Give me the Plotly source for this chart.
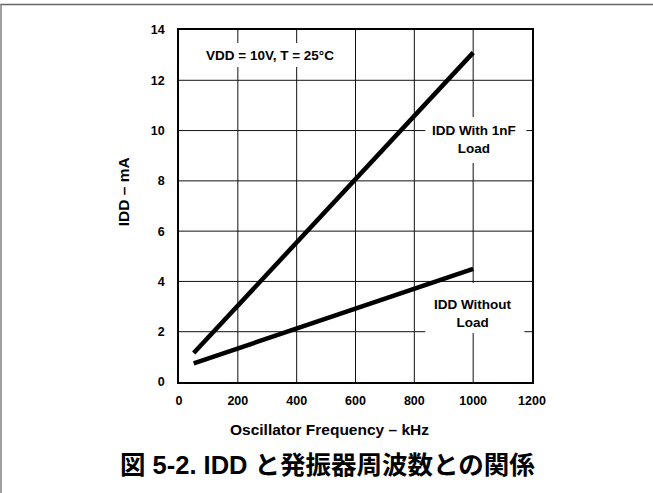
import plotly.graph_objects as go

# Supply current vs. oscillator frequency (VDD = 10V, T = 25°C)
freq_khz = [50, 1000]
idd_with_1nf_load = [1.15, 13.1]
idd_without_load = [0.74, 4.5]

x_ticks = [0, 200, 400, 600, 800, 1000, 1200]
y_ticks = [0, 2, 4, 6, 8, 10, 12, 14]

W, H = 653, 493
L, R, T, B = 178.7, 531.7, 30.0, 382.0


def px(x):
    return (x - L) / (R - L)


def py(y):
    return (B - y) / (B - T)


FONT = "Liberation Sans, Arial, Noto Sans CJK JP, sans-serif"

fig = go.Figure()
for ys in (idd_with_1nf_load, idd_without_load):
    fig.add_trace(go.Scatter(
        x=freq_khz, y=ys, mode="lines",
        line=dict(color="black", width=4.5),
        showlegend=False, hoverinfo="skip",
    ))

axis_common = dict(
    showgrid=False,
    showline=True, linecolor="black", linewidth=1.5, mirror=True,
    ticks="", zeroline=False,
    tickfont=dict(family=FONT, size=12.5, color="black", weight="bold"),
)

fig.update_xaxes(range=[0, 1200], tickvals=x_ticks, ticklabelstandoff=6, **axis_common)
fig.update_yaxes(range=[0, 14], tickvals=y_ticks, ticklabelstandoff=10, **axis_common)

shapes = []
# grid drawn as shapes under the curves
for xv in x_ticks[1:-1]:
    shapes.append(dict(type="line", xref="x", yref="paper", x0=xv, x1=xv, y0=0, y1=1,
                       line=dict(color="#111111", width=1), layer="below"))
for yv in y_ticks[1:-1]:
    shapes.append(dict(type="line", xref="paper", yref="y", x0=0, x1=1, y0=yv, y1=yv,
                       line=dict(color="#111111", width=1), layer="below"))
# white panels behind the in-plot labels (they interrupt the grid, not the curves)
for x0, x1, y0, y1 in [(204, 337, 43, 67), (425, 526, 117, 163), (425, 524, 283, 333)]:
    shapes.append(dict(type="rect", xref="paper", yref="paper",
                       x0=px(x0), x1=px(x1), y0=py(y1), y1=py(y0),
                       fillcolor="white", line=dict(width=0), layer="below"))
# outer page rules (top and left)
shapes.append(dict(type="line", xref="paper", yref="paper",
                   x0=px(0), x1=px(W), y0=py(4.5), y1=py(4.5),
                   line=dict(color="#666666", width=1.5), layer="above"))
shapes.append(dict(type="line", xref="paper", yref="paper",
                   x0=px(0.7), x1=px(0.7), y0=py(4.5), y1=py(H),
                   line=dict(color="#808080", width=1.5), layer="above"))

annotations = [
    dict(x=px(270), y=py(55), text="VDD = 10V, T = 25°C",
         font=dict(family=FONT, size=13.5, color="black", weight="bold")),
    dict(x=px(474), y=py(139.5), text="IDD With 1nF<br>Load",
         font=dict(family=FONT, size=13.5, color="black", weight="bold")),
    dict(x=px(473), y=py(313.5), text="IDD Without<br>Load",
         font=dict(family=FONT, size=13.5, color="black", weight="bold")),
    dict(x=px(123), y=py(192), text="IDD – mA", textangle=-90,
         font=dict(family=FONT, size=15.5, color="black", weight="bold")),
    dict(x=px(329), y=py(430), text="Oscillator Frequency – kHz",
         font=dict(family=FONT, size=15.5, color="black", weight="bold")),
    dict(x=px(327), y=py(465), text="図 5-2. IDD と発振器周波数との関係",
         font=dict(family=FONT, size=25.5, color="black", weight="bold")),
]
for a in annotations:
    a.update(xref="paper", yref="paper", showarrow=False,
             xanchor="center", yanchor="middle")

fig.update_layout(
    width=W, height=H,
    margin=dict(l=L, r=W - R, t=T, b=H - B, pad=0),
    paper_bgcolor="white", plot_bgcolor="white",
    shapes=shapes, annotations=annotations,
)

fig.write_html("out.html")
